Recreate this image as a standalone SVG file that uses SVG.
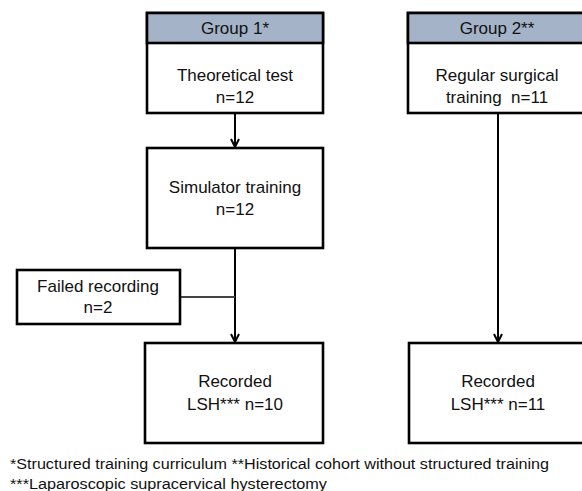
<svg xmlns="http://www.w3.org/2000/svg" width="582" height="491" viewBox="0 0 582 491">
<style>
.box{fill:#fff;stroke:#000;stroke-width:2.6}
.hdr{fill:#a4b3c8;stroke:#000;stroke-width:2.6}
.t{font-family:"Liberation Sans",Arial,sans-serif;font-size:17px;fill:#111;text-anchor:middle}
.fn{font-family:"Liberation Sans",Arial,sans-serif;font-size:15.5px;fill:#111}
.ln{stroke:#000;stroke-width:2;fill:none}
</style>
<defs>
<marker id="ah" viewBox="0 0 10 10" refX="9" refY="5" markerWidth="5" markerHeight="5" orient="auto" markerUnits="strokeWidth">
<path d="M1,1 L9,5 L1,9" fill="none" stroke="#000" stroke-width="2"/>
</marker>
</defs>
<g id="connectors">
<line class="ln" x1="235" y1="113" x2="235" y2="147" marker-end="url(#ah)"/>
<line class="ln" x1="235" y1="248" x2="235" y2="342" marker-end="url(#ah)"/>
<line x1="180" y1="297" x2="235" y2="297" stroke="#444" stroke-width="2"/>
<line class="ln" x1="498" y1="113" x2="498" y2="342" marker-end="url(#ah)"/>
</g>
<g id="group1">
<rect class="box" x="147" y="13" width="176" height="100"/>
<rect class="hdr" x="147" y="13" width="176" height="30"/>
<text class="t" x="235" y="34">Group 1*</text>
<text class="t" x="235" y="81">Theoretical test</text>
<text class="t" x="235" y="103">n=12</text>
</g>
<g id="simulator">
<rect class="box" x="147" y="148" width="176" height="100"/>
<text class="t" x="235" y="193">Simulator training</text>
<text class="t" x="235" y="215">n=12</text>
</g>
<g id="failed">
<rect class="box" x="17" y="270" width="163" height="54"/>
<text class="t" x="98" y="292">Failed recording</text>
<text class="t" x="98" y="313">n=2</text>
</g>
<g id="recorded1">
<rect class="box" x="145" y="343" width="178" height="100"/>
<text class="t" x="235" y="387">Recorded</text>
<text class="t" x="235" y="410">LSH*** n=10</text>
</g>
<g id="group2">
<rect class="box" x="408" y="13" width="178" height="100"/>
<rect class="hdr" x="408" y="13" width="178" height="30"/>
<text class="t" x="497" y="34">Group 2**</text>
<text class="t" x="497" y="81">Regular surgical</text>
<text class="t" x="497" y="103" xml:space="preserve">training  n=11</text>
</g>
<g id="recorded2">
<rect class="box" x="409" y="343" width="178" height="100"/>
<text class="t" x="498" y="387">Recorded</text>
<text class="t" x="498" y="410">LSH*** n=11</text>
</g>
<g id="footnote">
<text class="fn" x="10" y="469" textLength="539" lengthAdjust="spacingAndGlyphs">*Structured training curriculum **Historical cohort without structured training</text>
<text class="fn" x="10" y="489" textLength="317" lengthAdjust="spacingAndGlyphs">***Laparoscopic supracervical hysterectomy</text>
</g>
</svg>
